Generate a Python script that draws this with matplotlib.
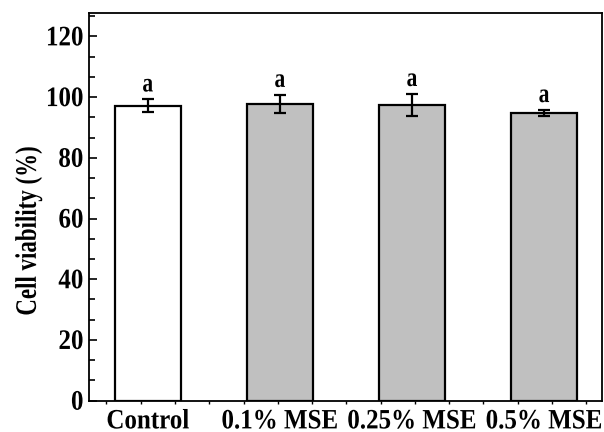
import numpy as np
import matplotlib
matplotlib.use("Agg")
import matplotlib.pyplot as plt
from matplotlib.ticker import MultipleLocator, AutoMinorLocator, FixedLocator
from matplotlib.patheffects import AbstractPathEffect
from matplotlib.transforms import Affine2D

categories = ["Control", "0.1% MSE", "0.25% MSE", "0.5% MSE"]
viability = [97.2, 97.8, 97.4, 94.8]
errors = [2.1, 3.0, 3.7, 1.0]
letters = ["a", "a", "a", "a"]
bar_colors = ["#FFFFFF", "#C0C0C0", "#C0C0C0", "#C0C0C0"]

plt.rcParams["font.family"] = ["Liberation Serif", "DejaVu Serif"]
plt.rcParams["font.weight"] = "bold"


class Stretch(AbstractPathEffect):
    """Draw glyphs taller (condensed look) while keeping the text real."""
    def __init__(self, sy):
        super().__init__()
        self.sy = sy

    def draw_path(self, renderer, gc, tpath, affine, rgbFace=None):
        renderer.draw_path(gc, tpath, Affine2D().scale(1, self.sy) + affine, rgbFace)


fig = plt.figure(figsize=(6.04, 4.32), dpi=100)
ax = fig.add_axes([0.1474, 0.0725, 0.8488, 0.8967])

x = np.arange(len(categories))
ax.bar(x, viability, width=0.5, color=bar_colors, edgecolor="black",
       linewidth=1.6, zorder=2)
ax.errorbar(x, viability, yerr=errors, fmt="none", ecolor="black",
            elinewidth=1.6, capsize=4, capthick=1.6, zorder=3)
for xi, v, e, t in zip(x, viability, errors, letters):
    ax.annotate(t, (xi, v + e), xytext=(0, 2), textcoords="offset points",
                ha="center", va="bottom", fontsize=15.5, fontweight="bold",
                path_effects=[Stretch(1.25)])

ax.set_xlim(-0.445, 3.436)
ax.set_ylim(0, 127.6)
ax.set_xticks(x)
ax.set_xticklabels(categories, fontsize=18, fontweight="bold")
ax.yaxis.set_major_locator(MultipleLocator(20))
ax.yaxis.set_minor_locator(AutoMinorLocator(3))
ax.tick_params(axis="y", which="major", direction="in", length=6, width=1.2,
               labelsize=18, pad=4)
ax.tick_params(axis="y", which="minor", direction="in", length=4, width=1.2)
ax.xaxis.set_minor_locator(FixedLocator(-0.313 + 0.2594 * np.arange(15)))
ax.tick_params(axis="x", which="major", length=0, pad=7)
ax.tick_params(axis="x", which="minor", direction="out", length=2, width=1)
for lab in ax.get_yticklabels():
    lab.set_fontweight("bold")
    lab.set_path_effects([Stretch(1.13)])
for lab in ax.get_xticklabels():
    lab.set_path_effects([Stretch(1.12)])

ylab = ax.set_ylabel("Cell viability (%)", fontsize=16.5, fontweight="bold")
ylab.set_path_effects([Stretch(1.3)])
ax.yaxis.set_label_coords(-0.094, 0.438)
for s in ax.spines.values():
    s.set_linewidth(1.3)

fig.savefig("out.png", dpi=100)
